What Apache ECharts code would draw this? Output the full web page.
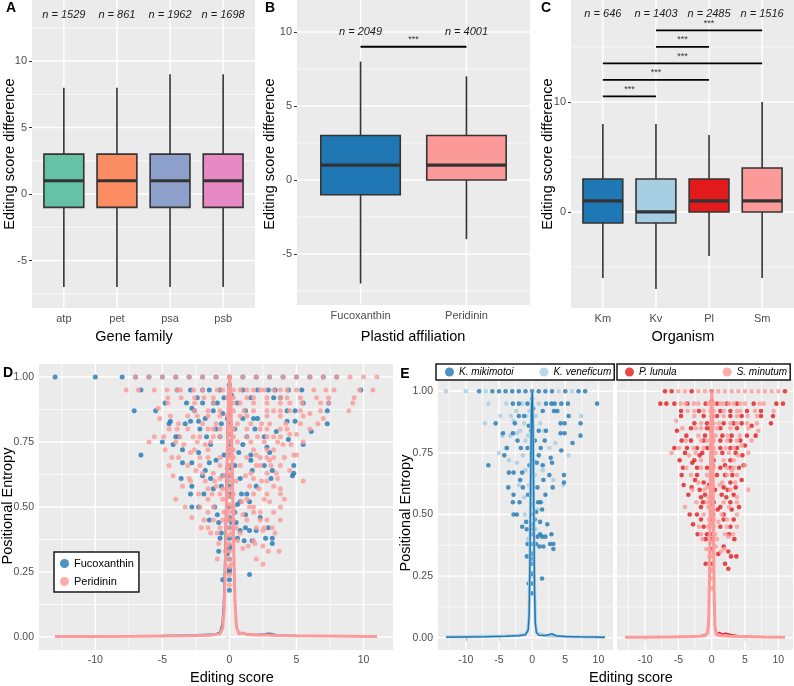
<!DOCTYPE html>
<html>
<head>
<meta charset="utf-8">
<script src="https://cdn.jsdelivr.net/npm/echarts@6/dist/echarts.min.js"></script>
<style>
  html, body { margin: 0; padding: 0; background: #fff; }
  #chart { width: 794px; height: 686px; }
</style>
</head>
<body>
<div id="chart"></div>
<script>
// ---- 箱线图数据: [下须, Q1, 中位数, Q3, 上须] ----
var geneFamilies = ['atp', 'pet', 'psa', 'psb'];
var geneN = [1529, 861, 1962, 1698];
var geneBoxes = [[-7, -1, 1, 3, 8], [-7, -1, 1, 3, 8], [-7, -1, 1, 3, 9], [-7, -1, 1, 3, 9]];
var geneColors = ['#66C2A5', '#FC8D62', '#8DA0CB', '#E78AC3'];

var plastids = ['Fucoxanthin', 'Peridinin'];
var plastidN = [2049, 4001];
var plastidBoxes = [[-7, -1, 1, 3, 8], [-4, 0, 1, 3, 7]];
var plastidColors = ['#1F78B4', '#FB9A99'];
var plastidSig = [[1, 2, 9]];

var organisms = ['Km', 'Kv', 'Pl', 'Sm'];
var organismN = [646, 1403, 2485, 1516];
var organismBoxes = [[-6, -1, 1, 3, 8], [-7, -1, 0, 3, 8], [-4, 0, 1, 3, 7], [-6, 0, 1, 4, 10]];
var organismColors = ['#1F78B4', '#A6CEE3', '#E31A1C', '#FB9A99'];
var organismSig = [[1, 2, 10.5], [1, 3, 12], [1, 4, 13.5], [2, 3, 15], [2, 4, 16.5]];

// ---- 刻度 ----
var boxYTicks = [-5, 0, 5, 10];
var boxYMinor = [-7.5, -2.5, 2.5, 7.5, 12.5];
var orgYTicks = [0, 10];
var orgYMinor = [-5, 5, 15];
var scoreTicks = [-10, -5, 0, 5, 10];
var scoreMinor = [-12.5, -7.5, -2.5, 2.5, 7.5, 12.5];
var entropyTicks = [0, 0.25, 0.5, 0.75, 1];
var entropyMinor = [0.125, 0.375, 0.625, 0.875];

// ---- 散点: [editing score, positional entropy] ----
var kmPoints = [
  [-8, 1], [-6, 1], [-5, 1], [-4, 1], [-3, 1], [-2, 1], [-1, 1], [0, 1], [1, 1], [2, 1], [3, 1], [5, 1], [7, 1], [8, 1],
  [-2.9, 0.95], [-2.0, 0.95], [-0.7, 0.95], [2.1, 0.95], [2.9, 0.95], [3.4, 0.95], [4.4, 0.95], [5.4, 0.95], [9.8, 0.95],
  [3.3, 0.92], [3.8, 0.92], [1.6, 0.92], [-2.0, 0.9], [5.5, 0.9], [-1.2, 0.9],
  [-5.5, 0.87], [-2.6, 0.87], [4.3, 0.87], [4.9, 0.87], [7.3, 0.87], [-0.5, 0.86],
  [2.1, 0.84], [1.0, 0.84], [-4.4, 0.83], [-2.9, 0.83], [4.3, 0.83], [4.9, 0.83], [7.3, 0.82],
  [-2.2, 0.8], [1.9, 0.8], [0.4, 0.8], [6.1, 0.79],
  [-3.8, 0.77], [-0.7, 0.77], [1.3, 0.77], [-1.7, 0.77], [4.4, 0.76],
  [-4.2, 0.74], [1.0, 0.74], [2.8, 0.73], [-6.6, 0.7], [0.7, 0.71], [3.0, 0.71], [-0.4, 0.7], [1.6, 0.7],
  [-3.5, 0.67], [-2.8, 0.67], [-1.5, 0.67], [2.6, 0.66], [4.8, 0.66],
  [4.8, 0.63], [1.7, 0.64], [-1.8, 0.64], [-3.6, 0.61], [-1.4, 0.61], [0.8, 0.61], [3.1, 0.61],
  [-2.8, 0.58], [2.0, 0.58], [-0.6, 0.58], [-2.9, 0.55], [-1.9, 0.55], [1.3, 0.55], [0.9, 0.55],
  [-2.8, 0.5], [-2.3, 0.5], [0.6, 0.51], [1.5, 0.52], [-0.9, 0.47], [1.2, 0.47], [0.4, 0.48], [2.3, 0.46],
  [-0.8, 0.44], [-1.5, 0.45],
  [0.8, 0.41], [1.5, 0.41], [2.0, 0.41], [1.2, 0.42], [2.9, 0.42],
  [-0.7, 0.38], [0.6, 0.38], [2.7, 0.38], [3.2, 0.38], [1.1, 0.37], [1.7, 0.37], [3.2, 0.36],
  [-0.8, 0.33], [1.5, 0.24], [-0.5, 0.22],
  [0, 0.18], [0, 0.22], [0, 0.26], [0, 0.3], [0, 0.34], [0, 0.38], [0, 0.42], [0, 0.46], [0, 0.5], [0, 0.54],
  [0, 0.58], [0, 0.62], [0, 0.66], [0, 0.7], [0, 0.74], [0, 0.78], [0, 0.82], [0, 0.86], [0, 0.9], [0, 0.97],
  [-0.15, 0.32], [0.15, 0.44], [-0.15, 0.6], [0.15, 0.72], [-0.15, 0.84], [0.15, 0.93]
];
var kvPoints = [
  [-13, 1], [-10, 1], [-7, 1], [4, 1], [6, 1],
  [-6.6, 0.95], [-3.9, 0.95], [-1.5, 0.95], [1.0, 0.95], [-0.4, 0.92], [-2.4, 0.92],
  [0.6, 0.9], [-3.2, 0.9], [-4.8, 0.9], [7.4, 0.9], [-0.9, 0.9], [-7.1, 0.87], [-1.2, 0.87], [1.2, 0.87], [-2.8, 0.88],
  [-1.8, 0.84], [1.8, 0.84], [-2.3, 0.83], [-3.3, 0.82], [-0.6, 0.82], [-4.5, 0.82],
  [-1.0, 0.8], [3.5, 0.79], [-4.0, 0.77], [2.6, 0.77], [-5.0, 0.75],
  [5.5, 0.74], [-1.4, 0.74], [-3.5, 0.72], [-2.3, 0.71], [-1.0, 0.68], [1.6, 0.68], [0.4, 0.66],
  [-2.0, 0.62], [3.2, 0.64], [4.7, 0.62], [-0.5, 0.62], [-1.2, 0.57], [0.8, 0.52], [-1.1, 0.5], [0.5, 0.44], [-0.6, 0.4],
  [0, 0.25], [0, 0.35], [0, 0.45], [0, 0.55], [0, 0.65], [0, 0.75], [0, 0.85], [0, 0.93]
];
var plPoints = [
  [-7, 1], [-6, 1], [-3, 1], [0, 1], [11, 1],
  [-7.7, 0.95], [-6.8, 0.95], [-5.6, 0.95], [-3.65, 0.95], [-0.9, 0.95], [0.8, 0.95], [2.3, 0.95], [3.8, 0.95], [6.3, 0.95], [9.7, 0.95], [10.7, 0.95],
  [-4.6, 0.92], [-1.9, 0.92], [1.3, 0.92], [2.8, 0.92], [5.3, 0.92], [7.4, 0.92],
  [-4.6, 0.9], [-1.2, 0.9], [0.8, 0.9], [2.8, 0.9], [4.5, 0.9], [7.4, 0.9], [9.2, 0.9],
  [-2.6, 0.87], [-0.7, 0.87], [1.8, 0.87], [3.3, 0.87], [4.5, 0.87], [8.9, 0.87], [6.0, 0.86],
  [-3.1, 0.85], [-0.7, 0.85], [1.3, 0.85], [3.8, 0.85], [-5.2, 0.84],
  [-3.8, 0.82], [-1.0, 0.82], [1.6, 0.82], [3.0, 0.82], [6.6, 0.82], [5.3, 0.82],
  [-4.5, 0.8], [-3.1, 0.8], [-1.2, 0.8], [1.3, 0.8], [2.8, 0.8], [4.3, 0.8],
  [-5.6, 0.77], [-3.7, 0.77], [-2.2, 0.77], [-0.7, 0.77], [1.3, 0.77], [2.8, 0.77], [3.8, 0.77], [5.0, 0.78],
  [-4.0, 0.75], [-1.4, 0.75], [1.6, 0.75], [3.6, 0.75], [-1.8, 0.74], [4.6, 0.74],
  [-2.6, 0.72], [0.3, 0.72], [2.8, 0.72], [-4.8, 0.72], [-2.9, 0.71], [2.0, 0.7], [4.8, 0.7],
  [-4.3, 0.69], [-2.2, 0.69], [-0.7, 0.69], [1.3, 0.69], [2.8, 0.69], [4.1, 0.69],
  [-4.5, 0.66], [-2.2, 0.66], [0.8, 0.66], [3.1, 0.66], [2.0, 0.66], [-2.5, 0.64], [4.5, 0.64],
  [-1.2, 0.63], [2.8, 0.63], [-4.2, 0.62], [-0.4, 0.62],
  [-3.0, 0.61], [1.8, 0.61], [3.6, 0.61], [-1.8, 0.6], [0.5, 0.6], [2.4, 0.6],
  [-1.6, 0.57], [2.2, 0.57], [-3.5, 0.58], [-1.0, 0.58], [1.5, 0.58], [3.3, 0.58],
  [-1.3, 0.55], [0.3, 0.55], [2.8, 0.55], [-1.6, 0.53], [1.3, 0.53], [4.1, 0.53], [0.9, 0.52], [3.0, 0.52],
  [-2.2, 0.5], [1.8, 0.5], [-3.3, 0.5], [-1.6, 0.48], [1.8, 0.48], [3.3, 0.48],
  [-1.2, 0.45], [1.3, 0.45], [2.8, 0.45], [-2.8, 0.46],
  [-2.1, 0.42], [-0.7, 0.42], [2.6, 0.42], [-0.9, 0.4], [3.4, 0.4],
  [1.8, 0.37], [2.5, 0.35], [3.7, 0.33], [2.5, 0.28], [2.0, 0.3], [1.0, 0.34], [2.9, 0.33], [-0.9, 0.3],
  [0, 0.3], [0, 0.36], [0, 0.42], [0, 0.48], [0, 0.54], [0, 0.6], [0, 0.66], [0, 0.72], [0, 0.78], [0, 0.84], [0, 0.9], [0, 0.96],
  [0.15, 0.4], [-0.15, 0.55], [0.15, 0.7], [-0.15, 0.85]
];
var smPoints = [
  [-5, 1], [-4, 1], [-2, 1], [-1, 1], [1, 1], [2, 1], [3, 1], [4, 1], [5, 1], [6, 1], [7, 1], [8, 1], [9, 1], [10, 1],
  [-4.65, 0.95], [-3.9, 0.95], [-2.66, 0.95], [-2.0, 0.95], [-0.5, 0.95], [0.3, 0.95], [1.3, 0.95], [1.8, 0.95], [2.6, 0.95], [3.3, 0.95], [4.3, 0.95], [5.0, 0.95], [7.2, 0.95], [7.8, 0.95],
  [-3.6, 0.92], [-2.6, 0.92], [-1.2, 0.92], [0.3, 0.92], [1.8, 0.92], [3.8, 0.92], [4.3, 0.92], [6.5, 0.92], [9.3, 0.92],
  [-2.6, 0.9], [0.3, 0.9], [1.8, 0.9], [3.8, 0.9], [5.4, 0.9], [6.8, 0.9],
  [-1.6, 0.87], [0.3, 0.87], [1.1, 0.87], [2.8, 0.87], [3.8, 0.87], [5.3, 0.87], [6.8, 0.87], [-5.3, 0.88],
  [-2.4, 0.85], [-1.6, 0.85], [0.8, 0.85], [2.8, 0.85], [5.5, 0.85], [-4.4, 0.85], [7.0, 0.84],
  [-2.0, 0.82], [0.6, 0.82], [2.4, 0.82], [4.2, 0.82],
  [-3.9, 0.8], [-1.6, 0.8], [-0.7, 0.8], [0.3, 0.8], [2.3, 0.8], [3.8, 0.8], [6.0, 0.8],
  [-4.9, 0.77], [-2.7, 0.77], [-1.2, 0.77], [0.3, 0.77], [2.1, 0.77], [3.3, 0.77], [4.5, 0.78],
  [-6.0, 0.75], [-2.4, 0.75], [0.6, 0.75], [2.6, 0.75], [5.5, 0.75], [-3.4, 0.74], [4.0, 0.74],
  [-1.6, 0.72], [1.8, 0.72], [3.3, 0.72], [-3.8, 0.69], [-1.6, 0.69], [0.3, 0.69], [2.3, 0.69], [3.3, 0.69], [5.0, 0.7],
  [-3.1, 0.66], [-0.7, 0.66], [2.3, 0.66], [3.8, 0.66], [3.0, 0.68], [-2.0, 0.63], [1.6, 0.63], [3.5, 0.63], [1.2, 0.62],
  [-0.7, 0.61], [5.5, 0.6], [-2.9, 0.6], [-1.1, 0.6], [2.8, 0.6], [-0.5, 0.57], [3.8, 0.57],
  [-0.7, 0.55], [1.8, 0.55], [3.8, 0.55], [-2.3, 0.55],
  [-4.0, 0.53], [-0.5, 0.53], [2.6, 0.53], [-1.2, 0.5], [0.3, 0.5], [3.8, 0.5], [1.5, 0.5],
  [-0.4, 0.48], [0.3, 0.48], [2.3, 0.48], [1.0, 0.47], [-0.5, 0.45], [0.3, 0.45], [2.3, 0.45], [3.8, 0.45], [-1.9, 0.45],
  [-1.6, 0.42], [2.0, 0.42], [3.2, 0.42], [0.5, 0.42], [2.5, 0.41], [0.8, 0.4], [-1.4, 0.4],
  [0.6, 0.37], [1.4, 0.35], [-0.3, 0.33], [-0.8, 0.36], [1.9, 0.36],
  [0, 0.2], [0, 0.24], [0, 0.27], [0, 0.33], [0, 0.39], [0, 0.45], [0, 0.51], [0, 0.57], [0, 0.63],
  [0, 0.69], [0, 0.75], [0, 0.81], [0, 0.87], [0, 0.93], [0, 1],
  [-0.15, 0.35], [0.15, 0.5], [-0.15, 0.65], [0.15, 0.8], [-0.15, 0.92], [0.15, 0.28], [0.15, 0.62], [-0.15, 0.46]
];

// ---- 密度曲线 (按最大值缩放) ----
var fucoDensity = [[-13, 0.003], [-11, 0.002], [-9, 0.003], [-7, 0.005], [-5, 0.006], [-3, 0.008], [-2, 0.01], [-1, 0.012],
  [-0.7, 0.02], [-0.55, 0.05], [-0.45, 0.12], [-0.35, 0.3], [-0.25, 0.56], [-0.15, 0.82], [-0.05, 0.97], [0.02, 1],
  [0.1, 0.92], [0.2, 0.68], [0.3, 0.4], [0.4, 0.18], [0.5, 0.06], [0.65, 0.02], [1, 0.012], [2, 0.01], [3, 0.014],
  [3.6, 0.008], [5, 0.006], [7, 0.004], [9, 0.003], [10.5, 0.002]];
var periDensity = [[-13, 0.002], [-10, 0.002], [-7, 0.003], [-5, 0.004], [-3, 0.005], [-1.5, 0.007], [-0.7, 0.012],
  [-0.5, 0.035], [-0.4, 0.1], [-0.3, 0.28], [-0.2, 0.58], [-0.1, 0.87], [0.02, 1], [0.12, 0.9], [0.22, 0.64],
  [0.32, 0.34], [0.42, 0.13], [0.52, 0.04], [0.7, 0.012], [1, 0.016], [1.3, 0.01], [2, 0.008], [2.6, 0.009],
  [3.5, 0.006], [5, 0.005], [7, 0.004], [9, 0.003], [11, 0.002]];
var kmDensity = [[-13, 0.002], [-10, 0.003], [-7, 0.004], [-4, 0.006], [-2, 0.008], [-1, 0.012], [-0.6, 0.03],
  [-0.45, 0.09], [-0.33, 0.3], [-0.22, 0.62], [-0.1, 0.92], [0.02, 1], [0.14, 0.85], [0.25, 0.5], [0.36, 0.2],
  [0.48, 0.06], [0.65, 0.02], [1, 0.01], [2, 0.009], [3, 0.016], [3.6, 0.008], [5, 0.005], [7, 0.004], [9.5, 0.003], [11, 0.002]];
var kvDensity = [[-13, 0.004], [-10, 0.004], [-7, 0.006], [-4, 0.007], [-2, 0.01], [-1, 0.014], [-0.6, 0.035],
  [-0.45, 0.11], [-0.33, 0.34], [-0.22, 0.66], [-0.1, 0.94], [0.02, 1], [0.14, 0.86], [0.25, 0.52], [0.36, 0.22],
  [0.5, 0.06], [0.7, 0.02], [1, 0.012], [2, 0.008], [4, 0.006], [6, 0.004], [8, 0.003], [11, 0.002]];
var plDensity = [[-13, 0.002], [-9, 0.003], [-6, 0.004], [-3, 0.006], [-1.5, 0.008], [-0.7, 0.015], [-0.5, 0.04],
  [-0.4, 0.1], [-0.3, 0.27], [-0.2, 0.57], [-0.1, 0.86], [0.02, 1], [0.12, 0.87], [0.22, 0.58], [0.32, 0.28],
  [0.42, 0.1], [0.55, 0.03], [0.8, 0.015], [1.2, 0.022], [1.6, 0.014], [2.1, 0.018], [3, 0.012], [4, 0.008],
  [6, 0.005], [8, 0.004], [11, 0.002]];
var smDensity = [[-13, 0.002], [-10, 0.002], [-7, 0.003], [-4, 0.004], [-2, 0.006], [-1, 0.008], [-0.6, 0.02],
  [-0.45, 0.07], [-0.33, 0.24], [-0.22, 0.56], [-0.1, 0.88], [0.02, 1], [0.14, 0.86], [0.25, 0.52], [0.36, 0.2],
  [0.48, 0.05], [0.7, 0.012], [1.5, 0.008], [3, 0.006], [5, 0.005], [8, 0.003], [11, 0.002]];

var fucoPoints = kvPoints.concat(kmPoints);
var periPoints = plPoints.concat(smPoints);

var FONT = '"Liberation Sans", Arial, Helvetica, sans-serif';

// 面板网格线 (白色主/次网格)
function gridLines(xMajor, xMinor, yMajor, yMinor, xr, yr) {
  var out = [];
  function add(list, kind, r) {
    list.forEach(function (v) { if (v >= r[0] && v <= r[1]) out.push([v, kind]); });
  }
  add(xMinor, 1, xr); add(yMinor, 3, yr); add(xMajor, 0, xr); add(yMajor, 2, yr);
  return out;
}
function renderGridLine(params, api) {
  var cs = params.coordSys;
  var v = api.value(0), kind = api.value(1);
  var p = api.coord([v, v]);
  var shape = kind < 2
    ? { x1: p[0], y1: cs.y, x2: p[0], y2: cs.y + cs.height }
    : { x1: cs.x, y1: p[1], x2: cs.x + cs.width, y2: p[1] };
  return { type: 'line', shape: shape, style: { stroke: '#fff', lineWidth: kind % 2 ? 0.7 : 1.4 } };
}
function renderBox(params, api) {
  var x = api.value(0);
  var lo = api.coord([x, api.value(1)]);
  var q1 = api.coord([x, api.value(2)]);
  var md = api.coord([x, api.value(3)]);
  var q3 = api.coord([x, api.value(4)]);
  var hi = api.coord([x, api.value(5)]);
  var half = api.size([0.75, 0])[0] / 2;
  var ln = { stroke: '#333', lineWidth: 1.6 };
  return { type: 'group', children: [
    { type: 'line', shape: { x1: lo[0], y1: lo[1], x2: q1[0], y2: q1[1] }, style: ln },
    { type: 'line', shape: { x1: q3[0], y1: q3[1], x2: hi[0], y2: hi[1] }, style: ln },
    { type: 'rect', shape: { x: q1[0] - half, y: q3[1], width: half * 2, height: q1[1] - q3[1] },
      style: { fill: api.visual('color'), stroke: '#333', lineWidth: 1.6 } },
    { type: 'line', shape: { x1: md[0] - half, y1: md[1], x2: md[0] + half, y2: md[1] }, style: { stroke: '#333', lineWidth: 3.2 } }
  ] };
}
function renderN(params, api) {
  var p = api.coord([api.value(0), api.value(1)]);
  return { type: 'text', x: p[0], y: p[1], style: {
    text: 'n = ' + api.value(2), fill: '#1a1a1a', font: 'italic 11px ' + FONT,
    align: 'center', verticalAlign: 'middle', textAlign: 'center', textVerticalAlign: 'middle' } };
}
function renderSig(params, api) {
  var a = api.coord([api.value(0), api.value(2)]);
  var b = api.coord([api.value(1), api.value(2)]);
  return { type: 'group', children: [
    { type: 'line', shape: { x1: a[0], y1: a[1], x2: b[0], y2: b[1] }, style: { stroke: '#000', lineWidth: 1.8 } },
    { type: 'text', x: (a[0] + b[0]) / 2, y: a[1] - 7, style: {
      text: '***', fill: '#333', font: '9px ' + FONT,
      align: 'center', verticalAlign: 'middle', textAlign: 'center', textVerticalAlign: 'middle' } }
  ] };
}

function boxData(boxes, colors) {
  return boxes.map(function (b, i) { return { value: [i + 1].concat(b), itemStyle: { color: colors[i] } }; });
}
function nData(ns, y) {
  return ns.map(function (n, i) { return [i + 1, y, n]; });
}

function valAxis(idx, min, max, ticks, fmt, showLabel, size) {
  return {
    type: 'value', gridIndex: idx, min: min, max: max,
    axisLine: { show: false }, splitLine: { show: false },
    axisTick: { show: showLabel, customValues: ticks, length: 3, lineStyle: { color: '#333', width: 1 } },
    axisLabel: { show: showLabel, customValues: ticks, formatter: fmt, color: '#4d4d4d', fontSize: size, margin: 5, fontFamily: FONT }
  };
}
function catFmt(names) { return function (v) { return names[Math.round(v) - 1]; }; }
function numFmt(v) { return String(v); }
function entFmt(v) { return v.toFixed(2); }

var grids = [
  { left: 32, top: 0, width: 223, height: 308 },
  { left: 297, top: 0, width: 233, height: 305 },
  { left: 571, top: 0, width: 223, height: 308 },
  { left: 39, top: 364, width: 354, height: 286 },
  { left: 438, top: 379, width: 175, height: 271 },
  { left: 617, top: 379, width: 176, height: 271 }
].map(function (g) {
  g.show = true; g.backgroundColor = '#EBEBEB'; g.borderWidth = 0; g.containLabel = false; g.outerBoundsMode = 'none';
  return g;
});

var xRanges = [[0.4, 4.6], [0.4, 2.6], [0.4, 4.6], [-14.2, 12.2], [-14.2, 12.2], [-14.2, 12.2]];
var yRanges = [[-8.57, 14.59], [-8.45, 12.16], [-8.73, 19.27], [-0.05, 1.05], [-0.05, 1.05], [-0.05, 1.05]];

var xAxes = [
  valAxis(0, 0.4, 4.6, [1, 2, 3, 4], catFmt(geneFamilies), true, 11),
  valAxis(1, 0.4, 2.6, [1, 2], catFmt(plastids), true, 11),
  valAxis(2, 0.4, 4.6, [1, 2, 3, 4], catFmt(organisms), true, 11),
  valAxis(3, -14.2, 12.2, scoreTicks, numFmt, true, 10.5),
  valAxis(4, -14.2, 12.2, scoreTicks, numFmt, true, 10.5),
  valAxis(5, -14.2, 12.2, scoreTicks, numFmt, true, 10.5)
];
var yAxes = [
  valAxis(0, -8.57, 14.59, boxYTicks, numFmt, true, 11),
  valAxis(1, -8.45, 12.16, boxYTicks, numFmt, true, 11),
  valAxis(2, -8.73, 19.27, orgYTicks, numFmt, true, 11),
  valAxis(3, -0.05, 1.05, entropyTicks, entFmt, true, 10.5),
  valAxis(4, -0.05, 1.05, entropyTicks, entFmt, true, 10.5),
  valAxis(5, -0.05, 1.05, entropyTicks, entFmt, false, 10.5)
];

var lineSets = [
  [[1, 2, 3, 4], [], boxYTicks, boxYMinor],
  [[1, 2], [], boxYTicks, boxYMinor],
  [[1, 2, 3, 4], [], orgYTicks, orgYMinor],
  [scoreTicks, scoreMinor, entropyTicks, entropyMinor],
  [scoreTicks, scoreMinor, entropyTicks, entropyMinor],
  [scoreTicks, scoreMinor, entropyTicks, entropyMinor]
];

var series = [];
lineSets.forEach(function (s, i) {
  series.push({
    type: 'custom', name: 'grid' + i, xAxisIndex: i, yAxisIndex: i, z: 1, silent: true,
    renderItem: renderGridLine, data: gridLines(s[0], s[1], s[2], s[3], xRanges[i], yRanges[i])
  });
});

// A B C 箱线图
[[geneBoxes, geneColors], [plastidBoxes, plastidColors], [organismBoxes, organismColors]].forEach(function (b, i) {
  series.push({ type: 'custom', name: 'box' + i, xAxisIndex: i, yAxisIndex: i, z: 3, silent: true,
    renderItem: renderBox, data: boxData(b[0], b[1]) });
});
series.push({ type: 'custom', name: 'nA', xAxisIndex: 0, yAxisIndex: 0, z: 4, silent: true, renderItem: renderN, data: nData(geneN, 13.5) });
series.push({ type: 'custom', name: 'nB', xAxisIndex: 1, yAxisIndex: 1, z: 4, silent: true, renderItem: renderN, data: nData(plastidN, 10) });
series.push({ type: 'custom', name: 'nC', xAxisIndex: 2, yAxisIndex: 2, z: 4, silent: true, renderItem: renderN, data: nData(organismN, 18) });
series.push({ type: 'custom', name: 'sigB', xAxisIndex: 1, yAxisIndex: 1, z: 4, silent: true, renderItem: renderSig, data: plastidSig });
series.push({ type: 'custom', name: 'sigC', xAxisIndex: 2, yAxisIndex: 2, z: 4, silent: true, renderItem: renderSig, data: organismSig });

// D, E 散点与密度
function scatter(name, data, color, ax, size) {
  return { type: 'scatter', name: name, xAxisIndex: ax, yAxisIndex: ax, data: data, symbolSize: size, z: 3,
    itemStyle: { color: color, opacity: 0.8 }, silent: true };
}
function density(name, data, color, ax, width) {
  return { type: 'line', name: name, xAxisIndex: ax, yAxisIndex: ax, data: data, showSymbol: false, z: 4,
    lineStyle: { color: color, width: width }, itemStyle: { color: color }, silent: true };
}
series.push(scatter('Fucoxanthin', fucoPoints, '#1F78B4', 3, 5));
series.push(scatter('Peridinin', periPoints, '#FB9A99', 3, 5));
series.push(density('Fucoxanthin density', fucoDensity, '#1F78B4', 3, 1.5));
series.push(density('Peridinin density', periDensity, '#FB9A99', 3, 3));

series.push(scatter('K. veneficum', kvPoints, '#A6CEE3', 4, 4.6));
series.push(scatter('K. mikimotoi', kmPoints, '#1F78B4', 4, 4.6));
series.push(density('K. veneficum density', kvDensity, '#A6CEE3', 4, 3));
series.push(density('K. mikimotoi density', kmDensity, '#1F78B4', 4, 1.5));

series.push(scatter('P. lunula', plPoints, '#E31A1C', 5, 4.6));
series.push(scatter('S. minutum', smPoints, '#FB9A99', 5, 4.6));
series.push(density('P. lunula density', plDensity, '#E31A1C', 5, 1.5));
series.push(density('S. minutum density', smDensity, '#FB9A99', 5, 3));

function txt(text, x, y, font, rot) {
  return { type: 'text', x: x, y: y, rotation: rot || 0, z: 10, silent: true,
    style: { text: text, font: font, fill: '#000', align: 'center', verticalAlign: 'middle',
      textAlign: 'center', textVerticalAlign: 'middle' } };
}
var titleFont = '14.5px ' + FONT;
var letterFont = 'bold 14px ' + FONT;
var R = Math.PI / 2;

var legendBase = {
  selectedMode: false, icon: 'circle', itemWidth: 9, itemHeight: 9,
  backgroundColor: '#fff', borderColor: '#1a1a1a', borderWidth: 1.5, borderRadius: 0
};
function legend(extra) {
  var l = {};
  Object.keys(legendBase).forEach(function (k) { l[k] = legendBase[k]; });
  Object.keys(extra).forEach(function (k) { l[k] = extra[k]; });
  return l;
}

var chart = echarts.init(document.getElementById('chart'), null, { renderer: 'canvas' });
chart.setOption({
  animation: false,
  textStyle: { fontFamily: FONT },
  grid: grids,
  xAxis: xAxes,
  yAxis: yAxes,
  legend: [
    legend({ data: ['Fucoxanthin', 'Peridinin'], left: 54, top: 552, orient: 'vertical', itemGap: 7,
      padding: [6, 5, 5, 6], textStyle: { fontSize: 11, color: '#000', fontFamily: FONT } }),
    legend({ data: ['K. mikimotoi', 'K. veneficum'], left: 436, top: 364, orient: 'horizontal', itemGap: 26,
      padding: [3, 3, 3, 9], textStyle: { fontSize: 10, fontStyle: 'italic', color: '#000', fontFamily: FONT } }),
    legend({ data: ['P. lunula', 'S. minutum'], left: 617, top: 364, orient: 'horizontal', itemGap: 46,
      padding: [3, 3, 3, 8], textStyle: { fontSize: 10, fontStyle: 'italic', color: '#000', fontFamily: FONT } })
  ],
  graphic: [
    txt('A', 11, 8, letterFont), txt('B', 270, 8, letterFont), txt('C', 546, 8, letterFont),
    txt('D', 8, 373, letterFont), txt('E', 405, 374, letterFont),
    txt('Editing score difference', 10, 154, titleFont, R),
    txt('Editing score difference', 270, 154, titleFont, R),
    txt('Editing score difference', 548, 154, titleFont, R),
    txt('Gene family', 134, 337, titleFont),
    txt('Plastid affiliation', 413, 337, titleFont),
    txt('Organism', 683, 337, titleFont),
    txt('Positional Entropy', 8, 506, titleFont, R),
    txt('Positional Entropy', 406, 513, titleFont, R),
    txt('Editing score', 232, 678, titleFont),
    txt('Editing score', 631, 678, titleFont)
  ],
  series: series
});
</script>
</body>
</html>
